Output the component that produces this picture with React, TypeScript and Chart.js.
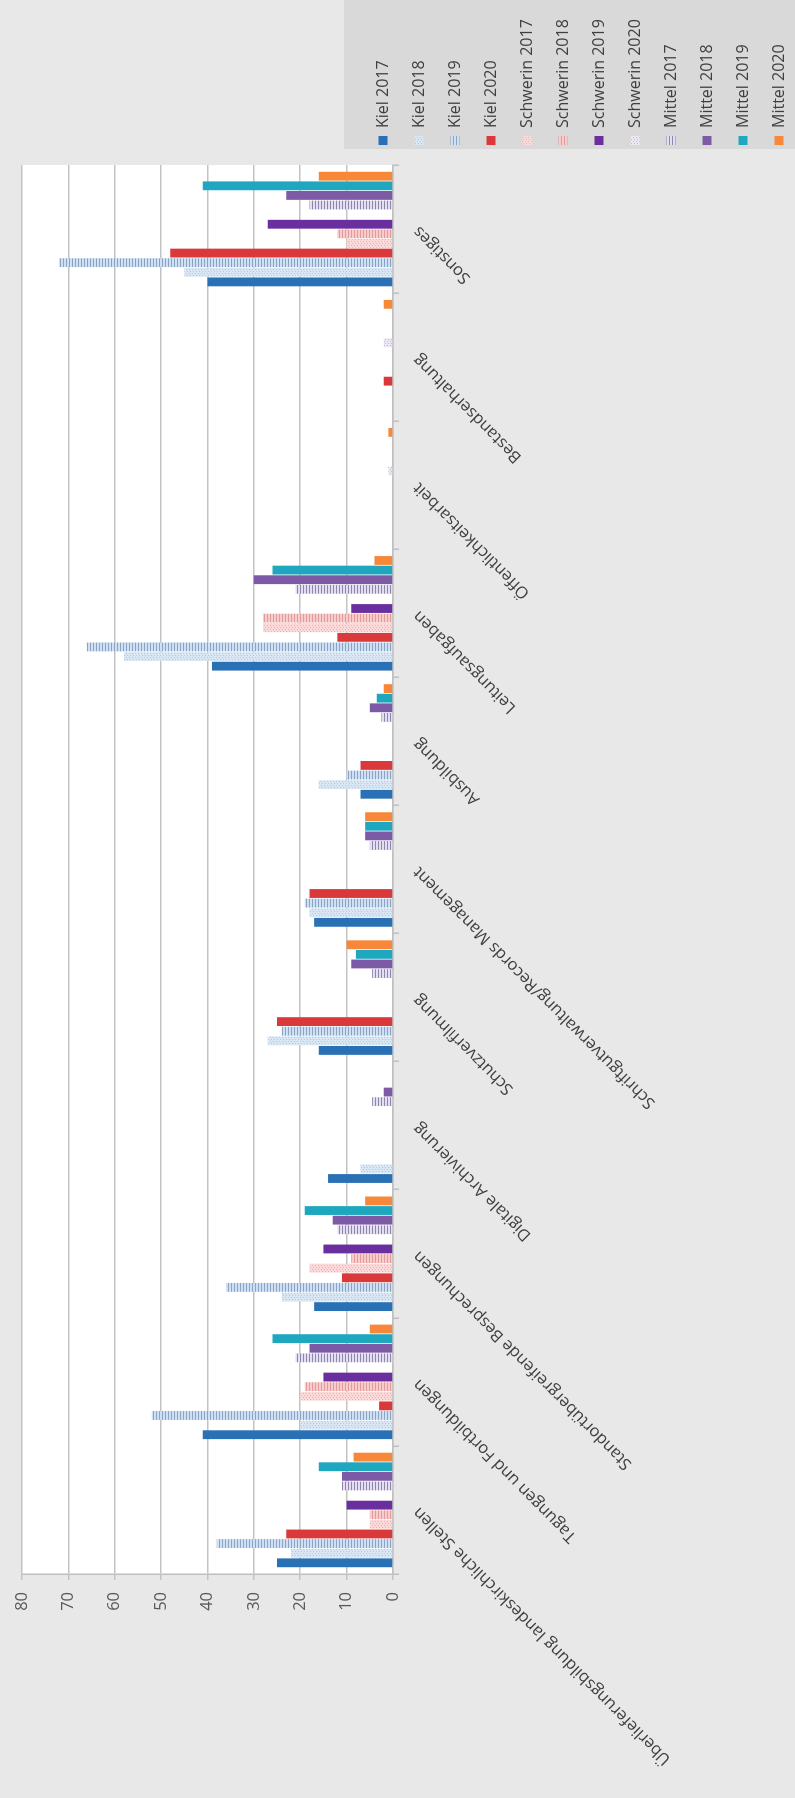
import React, { useEffect, useRef } from "react";
import { Chart, registerables } from "chart.js";
Chart.register(...registerables);

const categories = [
  "Überlieferungsbildung landeskirchliche Stellen",
  "Tagungen und Fortbildungen",
  "Standortübergreifende Besprechungen",
  "Digitale Archivierung",
  "Schutzverfilmung",
  "Schriftgutverwaltung/Records Management",
  "Ausbildung",
  "Leitungsaufgaben",
  "Öffentlichkeitsarbeit",
  "Bestandserhaltung",
  "Sonstiges",
];

const yTicks = [0, 10, 20, 30, 40, 50, 60, 70, 80];

const kiel2017 = [25, 41, 17, 14, 16, 17, 7, 39, 0, 0, 40];
const kiel2018 = [22, 20, 24, 7, 27, 18, 16, 58, 0, 0, 45];
const kiel2019 = [38, 52, 36, 0, 24, 19, 10, 66, 0, 0, 72];
const kiel2020 = [23, 3, 11, 0, 25, 18, 7, 12, 0, 2, 48];
const schwerin2017 = [5, 20, 18, 0, 0, 0, 0, 28, 0, 0, 10];
const schwerin2018 = [5, 19, 9, 0, 0, 0, 0, 28, 0, 0, 12];
const schwerin2019 = [10, 15, 15, 0, 0, 0, 0, 9, 0, 0, 27];
const schwerin2020 = [0, 0, 0, 0, 0, 0, 0, 0, 1, 2, 0];
const mittel2017 = [11, 21, 12, 4.5, 4.5, 5, 2.5, 21, 0, 0, 18];
const mittel2018 = [11, 18, 13, 2, 9, 6, 5, 30, 0, 0, 23];
const mittel2019 = [16, 26, 19, 0, 8, 6, 3.5, 26, 0, 0, 41];
const mittel2020 = [8.5, 5, 6, 0, 10, 6, 2, 4, 1, 2, 16];

const seriesNames = [
  "Kiel 2017", "Kiel 2018", "Kiel 2019", "Kiel 2020",
  "Schwerin 2017", "Schwerin 2018", "Schwerin 2019", "Schwerin 2020",
  "Mittel 2017", "Mittel 2018", "Mittel 2019", "Mittel 2020",
];
const seriesValues = [
  kiel2017, kiel2018, kiel2019, kiel2020,
  schwerin2017, schwerin2018, schwerin2019, schwerin2020,
  mittel2017, mittel2018, mittel2019, mittel2020,
];

type Fill = { solid?: string; bg?: string; fg?: string; kind?: "lines" | "dots" };
const seriesFills: Fill[] = [
  { solid: "#2a70b5" },
  { bg: "#d9e7f5", fg: "#b0cae6", kind: "dots" },
  { bg: "#cfe0f2", fg: "#8aa3c6", kind: "lines" },
  { solid: "#d9393b" },
  { bg: "#fbd9d9", fg: "#f2b0b0", kind: "dots" },
  { bg: "#f9cccc", fg: "#e39a9a", kind: "lines" },
  { solid: "#6a2f9e" },
  { bg: "#ede7f4", fg: "#c3b7d9", kind: "dots" },
  { bg: "#e4dff0", fg: "#8f86ad", kind: "lines" },
  { solid: "#7d5aa5" },
  { solid: "#1ea7be" },
  { solid: "#f7883a" },
];

function makeFill(f: Fill): any {
  if (f.solid) return f.solid;
  const tile = document.createElement("canvas");
  tile.width = 4;
  tile.height = 3;
  const c = tile.getContext("2d")!;
  c.fillStyle = f.bg!;
  c.fillRect(0, 0, 4, 3);
  c.fillStyle = f.fg!;
  if (f.kind === "lines") {
    c.fillRect(0, 0, 4, 1);
  } else {
    c.fillRect(0, 0, 1, 1);
    c.fillRect(2, 1, 1, 1);
  }
  return c.createPattern(tile, "repeat");
}

export default function App() {
  const ref = useRef<HTMLCanvasElement>(null);

  useEffect(() => {
    document.body.style.margin = "0";
    document.documentElement.style.overflow = "hidden";
    const canvas = ref.current!;
    Chart.defaults.font.family = "'Open Sans', sans-serif";

    const bgPlugin = {
      id: "bgPlugin",
      beforeDraw(chart: any) {
        const { ctx, width, height, chartArea, legend } = chart;
        ctx.save();
        ctx.fillStyle = "#e8e8e8";
        ctx.fillRect(0, 0, width, height);
        if (legend) {
          const colH = legend.columnSizes && legend.columnSizes[0] ? legend.columnSizes[0].height : 432;
          const top = legend.bottom - colH - 31;
          ctx.fillStyle = "#d9d9d9";
          ctx.fillRect(legend.left + 16, top, width - legend.left - 16, height - top);
        }
        ctx.fillStyle = "#ffffff";
        ctx.fillRect(chartArea.left, chartArea.top, chartArea.right - chartArea.left, chartArea.bottom - chartArea.top);
        ctx.restore();
      },
    };

    const chart = new Chart(canvas, {
      type: "bar",
      data: {
        labels: categories,
        datasets: seriesNames.map((name, i) => ({
          label: name,
          data: seriesValues[i],
          backgroundColor: makeFill(seriesFills[i]),
          borderWidth: 0,
          categoryPercentage: 0.9,
          barPercentage: 0.92,
        })),
      },
      options: {
        animation: false,
        responsive: false,
        layout: { padding: { top: 18, right: 15, bottom: -12, left: 0 } },
        plugins: {
          legend: {
            position: "right",
            align: "end",
            maxWidth: 150,
            labels: {
              boxWidth: 9,
              boxHeight: 9,
              padding: 20,
              color: "#404040",
              font: { size: 16 },
            },
          },
          tooltip: { enabled: false },
        },
        scales: {
          x: {
            afterFit(scale: any) {
              scale.height = 414;
            },
            grid: {
              display: true,
              drawOnChartArea: false,
              drawTicks: true,
              tickLength: 6,
              color: "#bfbfbf",
              lineWidth: 1.5,
            },
            border: { display: true, color: "#bfbfbf", width: 1.5 },
            ticks: {
              autoSkip: false,
              minRotation: 45,
              maxRotation: 45,
              padding: 10,
              color: "#404040",
              font: { size: 16.5 },
            },
          },
          y: {
            min: 0,
            max: 80,
            afterFit(scale: any) {
              scale.width = 224;
            },
            afterBuildTicks(scale: any) {
              scale.ticks = yTicks.map((v) => ({ value: v }));
            },
            grid: {
              color: "#c3c3c3",
              lineWidth: 1.5,
              drawTicks: true,
              tickLength: 6,
            },
            border: { display: true, color: "#bfbfbf", width: 1.5 },
            ticks: {
              padding: 12,
              color: "#595959",
              font: { size: 16.5 },
            },
          },
        },
      },
      plugins: [bgPlugin],
    } as any);

    return () => chart.destroy();
  }, []);

  return (
    <div
      style={{
        position: "absolute",
        left: 0,
        top: 0,
        width: 795,
        height: 1798,
        overflow: "hidden",
        background: "#e8e8e8",
      }}
    >
      <canvas
        ref={ref}
        width={1798}
        height={795}
        style={{
          position: "absolute",
          left: 0,
          top: 0,
          width: 1798,
          height: 795,
          transformOrigin: "0 0",
          transform: "translateY(1798px) rotate(-90deg)",
        }}
      />
    </div>
  );
}
